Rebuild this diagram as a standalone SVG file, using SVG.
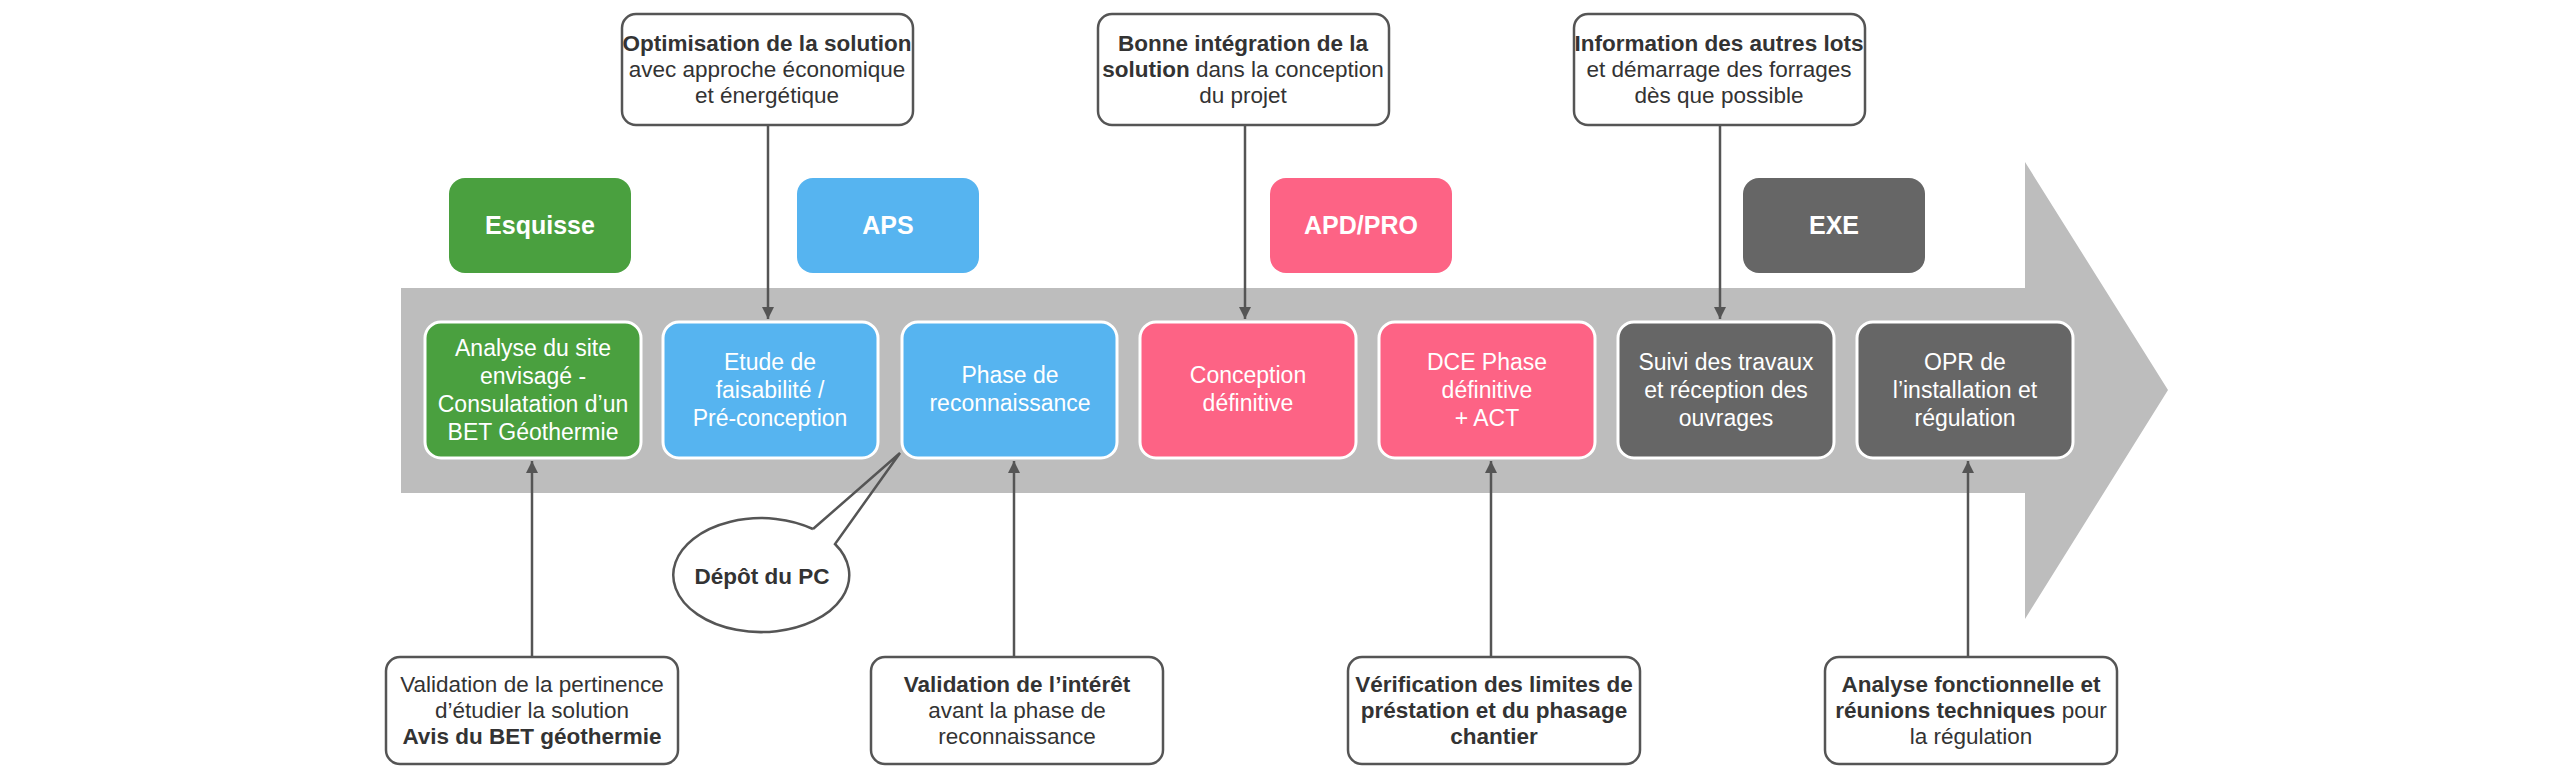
<svg xmlns="http://www.w3.org/2000/svg" width="2569" height="769" viewBox="0 0 2569 769">
<style>
text{font-family:"Liberation Sans",Arial,sans-serif;text-anchor:middle}
.ct{font-size:22.5px;fill:#333}
.b{font-weight:bold}
.wt{font-size:23px;fill:#fff}
.ph{font-size:25px;fill:#fff;font-weight:bold}
.cb{fill:#fff;stroke:#555;stroke-width:2.5}
.rb{stroke:#fff;stroke-width:3}
.lb{stroke:none}
.g{fill:#4aa03f}.bl{fill:#56b4f0}.pk{fill:#fd6385}.dk{fill:#666}
.con{stroke:#555;stroke-width:2.5;fill:none}
</style>
<defs>
<marker id="ah" viewBox="0 0 12 12" refX="12" refY="6" markerWidth="12" markerHeight="12" markerUnits="userSpaceOnUse" orient="auto">
<path d="M0,0 L12,6 L0,12 z" fill="#555"/>
</marker>
</defs>
<rect width="2569" height="769" fill="#fff"/>
<g id="timeline-arrow">
<path d="M401,288 L2025,288 L2025,162 L2168,390 L2025,619 L2025,493 L401,493 Z" fill="#bdbdbd"/>
</g>
<g id="phase-esquisse"><rect class="lb g" x="449" y="178" width="182" height="95" rx="16"/><text class="ph" x="540" y="234">Esquisse</text></g>
<g id="phase-aps"><rect class="lb bl" x="797" y="178" width="182" height="95" rx="16"/><text class="ph" x="888" y="234">APS</text></g>
<g id="phase-apd"><rect class="lb pk" x="1270" y="178" width="182" height="95" rx="16"/><text class="ph" x="1361" y="234">APD/PRO</text></g>
<g id="phase-exe"><rect class="lb dk" x="1743" y="178" width="182" height="95" rx="16"/><text class="ph" x="1834" y="234">EXE</text></g>

<g id="step-analyse"><rect class="rb g" x="425" y="322" width="216" height="136" rx="16"/>
<text class="wt" x="533" y="356">Analyse du site</text><text class="wt" x="533" y="384">envisagé -</text><text class="wt" x="533" y="412">Consulatation d’un</text><text class="wt" x="533" y="440">BET Géothermie</text></g>
<g id="step-etude"><rect class="rb bl" x="663" y="322" width="215" height="136" rx="16"/>
<text class="wt" x="770" y="370">Etude de</text><text class="wt" x="770" y="398">faisabilité /</text><text class="wt" x="770" y="426">Pré-conception</text></g>
<g id="step-phase"><rect class="rb bl" x="902" y="322" width="215" height="136" rx="16"/>
<text class="wt" x="1010" y="383">Phase de</text><text class="wt" x="1010" y="411">reconnaissance</text></g>
<g id="step-conception"><rect class="rb pk" x="1140" y="322" width="216" height="136" rx="16"/>
<text class="wt" x="1248" y="383">Conception</text><text class="wt" x="1248" y="411">définitive</text></g>
<g id="step-dce"><rect class="rb pk" x="1379" y="322" width="216" height="136" rx="16"/>
<text class="wt" x="1487" y="370">DCE Phase</text><text class="wt" x="1487" y="398">définitive</text><text class="wt" x="1487" y="426">+ ACT</text></g>
<g id="step-suivi"><rect class="rb dk" x="1618" y="322" width="216" height="136" rx="16"/>
<text class="wt" x="1726" y="370">Suivi des travaux</text><text class="wt" x="1726" y="398">et réception des</text><text class="wt" x="1726" y="426">ouvrages</text></g>
<g id="step-opr"><rect class="rb dk" x="1857" y="322" width="216" height="136" rx="16"/>
<text class="wt" x="1965" y="370">OPR de</text><text class="wt" x="1965" y="398">l’installation et</text><text class="wt" x="1965" y="426">régulation</text></g>

<g id="note-optimisation"><rect class="cb" x="622" y="14" width="291" height="111" rx="14"/>
<text class="ct b" x="767" y="51">Optimisation de la solution</text><text class="ct" x="767" y="77">avec approche économique</text><text class="ct" x="767" y="103">et énergétique</text></g>
<g id="note-integration"><rect class="cb" x="1098" y="14" width="291" height="111" rx="14"/>
<text class="ct b" x="1243" y="51">Bonne intégration de la</text><text class="ct" x="1243" y="77"><tspan class="b">solution</tspan> dans la conception</text><text class="ct" x="1243" y="103">du projet</text></g>
<g id="note-information"><rect class="cb" x="1574" y="14" width="291" height="111" rx="14"/>
<text class="ct b" x="1719" y="51">Information des autres lots</text><text class="ct" x="1719" y="77">et démarrage des forrages</text><text class="ct" x="1719" y="103">dès que possible</text></g>

<g id="note-pertinence"><rect class="cb" x="386" y="657" width="292" height="107" rx="14"/>
<text class="ct" x="532" y="692">Validation de la pertinence</text><text class="ct" x="532" y="718">d’étudier la solution</text><text class="ct b" x="532" y="744">Avis du BET géothermie</text></g>
<g id="note-interet"><rect class="cb" x="871" y="657" width="292" height="107" rx="14"/>
<text class="ct b" x="1017" y="692">Validation de l’intérêt</text><text class="ct" x="1017" y="718">avant la phase de</text><text class="ct" x="1017" y="744">reconnaissance</text></g>
<g id="note-verification"><rect class="cb" x="1348" y="657" width="292" height="107" rx="14"/>
<text class="ct b" x="1494" y="692">Vérification des limites de</text><text class="ct b" x="1494" y="718">préstation et du phasage</text><text class="ct b" x="1494" y="744">chantier</text></g>
<g id="note-analyse"><rect class="cb" x="1825" y="657" width="292" height="107" rx="14"/>
<text class="ct b" x="1971" y="692">Analyse fonctionnelle et</text><text class="ct" x="1971" y="718"><tspan class="b">réunions techniques</tspan> pour</text><text class="ct" x="1971" y="744">la régulation</text></g>

<g id="callout-pc">
<ellipse cx="762" cy="576" rx="88" ry="57" fill="#fff"/>
<path d="M813,529 L900,453 L835,544 A88,57 0 1 1 813,529" fill="none" stroke="#555" stroke-width="2.5" stroke-linejoin="miter"/>
<text class="ct b" x="762" y="584">Dépôt du PC</text>
</g>

<g id="connectors">
<line class="con" x1="768" y1="125" x2="768" y2="319" marker-end="url(#ah)"/>
<line class="con" x1="1245" y1="125" x2="1245" y2="319" marker-end="url(#ah)"/>
<line class="con" x1="1720" y1="125" x2="1720" y2="319" marker-end="url(#ah)"/>
<line class="con" x1="532" y1="657" x2="532" y2="461" marker-end="url(#ah)"/>
<line class="con" x1="1014" y1="657" x2="1014" y2="461" marker-end="url(#ah)"/>
<line class="con" x1="1491" y1="657" x2="1491" y2="461" marker-end="url(#ah)"/>
<line class="con" x1="1968" y1="657" x2="1968" y2="461" marker-end="url(#ah)"/>
</g>
</svg>
